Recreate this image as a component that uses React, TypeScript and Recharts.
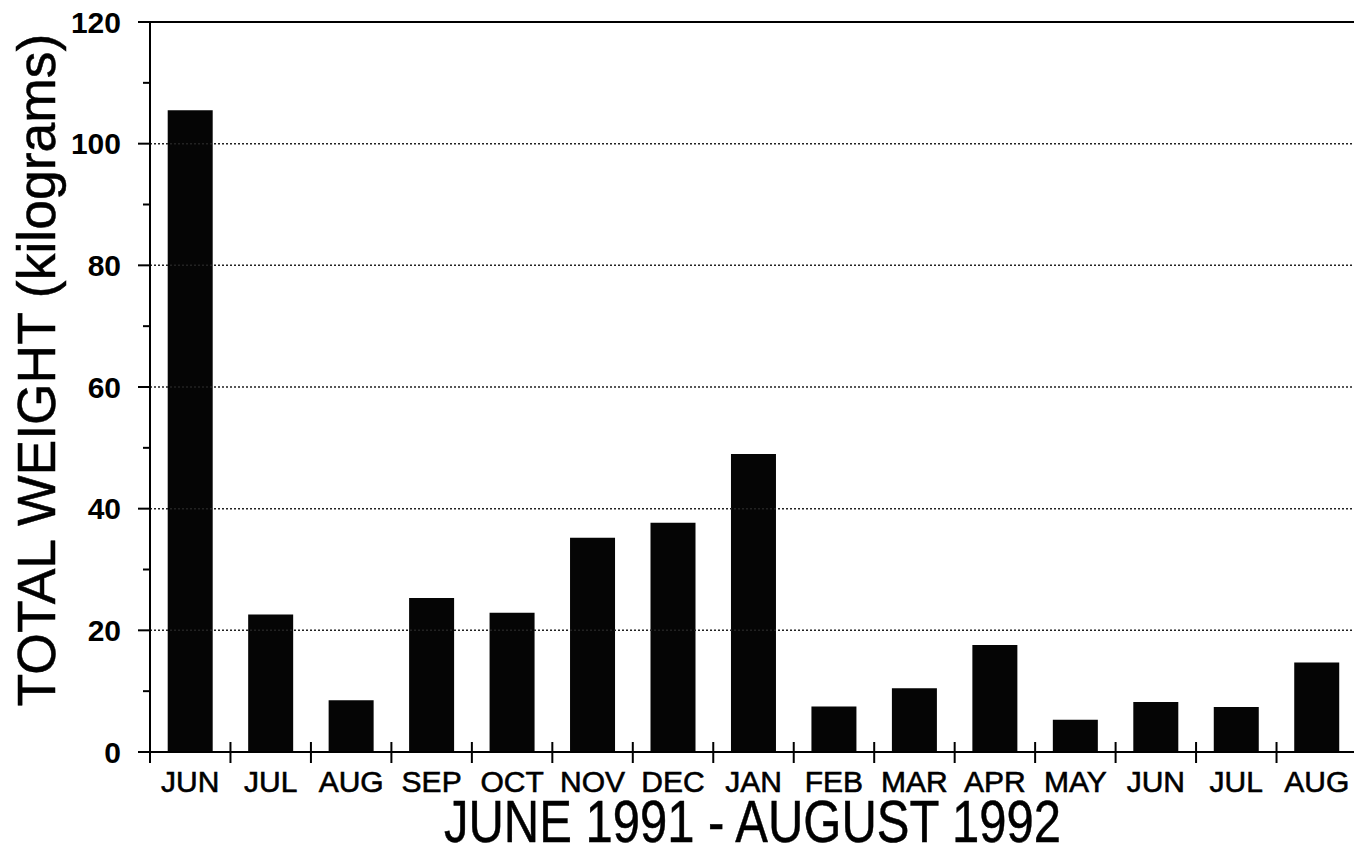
import { BarChart, Bar, XAxis, YAxis, ReferenceLine, Label } from "recharts";

// monthly totals, June 1991 - August 1992
const months = ["JUN", "JUL", "AUG", "SEP", "OCT", "NOV", "DEC", "JAN", "FEB", "MAR", "APR", "MAY", "JUN", "JUL", "AUG"];
const weights = [105.5, 22.6, 8.5, 25.3, 22.9, 35.2, 37.7, 49.0, 7.5, 10.5, 17.6, 5.3, 8.2, 7.4, 14.7];
const yTicks = [0, 10, 20, 30, 40, 50, 60, 70, 80, 90, 100, 110, 120];
const gridValues = [20, 40, 60, 80, 100];

const data = months.map((m, i) => ({ month: m, weight: weights[i] }));

const FONT = "'Liberation Sans', Arial, Helvetica, sans-serif";

const YTick = (props: any) => {
  const { x, y, payload } = props;
  const major = payload.value % 20 === 0;
  return (
    <g>
      <line x1={x - (major ? 12 : 7)} x2={x} y1={y} y2={y} stroke="#000" strokeWidth={2} />
      {major && (
        <text
          x={x - 29}
          y={y}
          textAnchor="end"
          dominantBaseline="central"
          fontFamily={FONT}
          fontWeight="bold"
          fontSize={30}
          fill="#000"
        >
          {payload.value}
        </text>
      )}
    </g>
  );
};

const XTick = (props: any) => {
  const { x, y, payload } = props;
  const bx = x - (payload.offset || 0);
  return (
    <g>
      <line x1={bx} x2={bx} y1={y - 10} y2={y + 11} stroke="#000" strokeWidth={2} />
      <text
        x={x}
        y={y + 40}
        textAnchor="middle"
        fontFamily={FONT}
        fontSize={30}
        fill="#000"
        stroke="#000"
        strokeWidth={0.6}
      >
        {months[payload.index] ?? payload.value}
      </text>
    </g>
  );
};

export default function App() {
  return (
    <div style={{ position: "absolute", left: 0, top: 0, background: "#fff" }}>
      <BarChart
        width={1360}
        height={849}
        data={data}
        margin={{ top: 22, right: 3, left: 0, bottom: 0 }}
        barCategoryGap="22%"
      >
        {gridValues.map((v) => (
          <ReferenceLine key={v} y={v} stroke="#222" strokeWidth={1.5} strokeDasharray="2 2" />
        ))}
        <ReferenceLine y={120} stroke="#000" strokeWidth={2} />
        <XAxis
          dataKey="month"
          height={97}
          tickSize={0}
          tickMargin={0}
          tickLine={false}
          interval={0}
          axisLine={{ stroke: "#000", strokeWidth: 2 }}
          tick={<XTick />}
        >
          <Label
            content={(p: any) => {
              const vb = p.viewBox;
              // the original title is set in a condensed face: stretch it vertically
              return (
                <g transform={`translate(${vb.x + vb.width / 2 - 1}, 842) scale(1, 1.22)`}>
                  <text
                    x={0}
                    y={0}
                    textAnchor="middle"
                    fontFamily={FONT}
                    fontSize={49}
                    fill="#000"
                    stroke="#000"
                    strokeWidth={0.4}
                  >
                    JUNE 1991 - AUGUST 1992
                  </text>
                </g>
              );
            }}
          />
        </XAxis>
        <YAxis
          width={150}
          domain={[0, 120]}
          ticks={yTicks}
          interval={0}
          tickSize={0}
          tickMargin={0}
          tickLine={false}
          axisLine={{ stroke: "#000", strokeWidth: 2 }}
          tick={<YTick />}
        >
          <Label
            content={(p: any) => {
              const vb = p.viewBox;
              const cy = vb.y + vb.height / 2 - 17;
              return (
                <text
                  x={55}
                  y={cy}
                  transform={`rotate(-90 55 ${cy})`}
                  textAnchor="middle"
                  fontFamily={FONT}
                  fontSize={53.5}
                  fill="#000"
                  stroke="#000"
                  strokeWidth={0.5}
                >
                  TOTAL WEIGHT (kilograms)
                </text>
              );
            }}
          />
        </YAxis>
        <Bar dataKey="weight" fill="#050505" isAnimationActive={false} />
      </BarChart>
    </div>
  );
}
